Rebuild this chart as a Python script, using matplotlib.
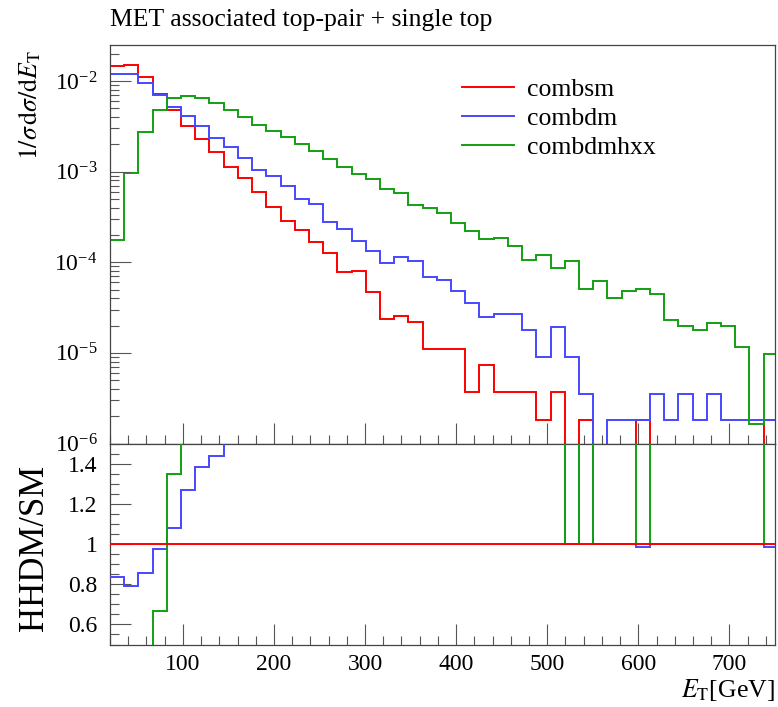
import matplotlib
matplotlib.use('Agg')
import matplotlib.pyplot as plt
import numpy as np
from matplotlib.ticker import LogLocator, NullFormatter, MultipleLocator, FixedLocator, FixedFormatter

plt.rcParams['font.family'] = ['Liberation Serif', 'DejaVu Serif']
plt.rcParams['mathtext.fontset'] = 'stix'

# binning: 47 bins of 15.6 GeV starting at 20 GeV
bin_edges = np.linspace(20, 753.2, 48)

combsm = [1.45e-2, 1.50e-2, 1.10e-2, 7.24e-3, 4.82e-3, 3.23e-3, 2.28e-3, 1.64e-3,
          1.13e-3, 8.47e-4, 6.03e-4, 4.11e-4, 2.88e-4, 2.28e-4, 1.66e-4, 1.26e-4,
          7.87e-5, 8.07e-5, 4.73e-5, 2.36e-5, 2.53e-5, 2.21e-5, 1.10e-5, 1.10e-5,
          1.10e-5, 3.66e-6, 7.30e-6, 3.66e-6, 3.66e-6, 3.66e-6, 1.84e-6, 3.66e-6,
          0, 1.84e-6, 0, 0, 0, 1.84e-6, 0, 0,
          0, 0, 0, 0, 0, 0, 1.84e-6]

combdm = [1.21e-2, 1.19e-2, 9.42e-3, 7.07e-3, 5.20e-3, 4.10e-3, 3.15e-3, 2.36e-3,
          1.85e-3, 1.42e-3, 1.05e-3, 8.84e-4, 6.97e-4, 4.97e-4, 4.41e-4, 2.77e-4,
          2.35e-4, 1.73e-4, 1.32e-4, 9.75e-5, 1.14e-4, 1.03e-4, 6.82e-5, 6.37e-5,
          4.82e-5, 3.58e-5, 2.51e-5, 2.69e-5, 2.69e-5, 1.80e-5, 8.91e-6, 1.94e-5,
          8.91e-6, 3.56e-6, 0, 1.81e-6, 1.81e-6, 1.81e-6, 3.56e-6, 1.81e-6,
          3.56e-6, 1.81e-6, 3.56e-6, 1.81e-6, 1.81e-6, 1.81e-6, 1.81e-6]

combdmhxx = [1.76e-4, 9.77e-4, 2.73e-3, 4.82e-3, 6.49e-3, 6.89e-3, 6.55e-3, 5.71e-3,
             4.79e-3, 4.04e-3, 3.29e-3, 2.84e-3, 2.40e-3, 2.01e-3, 1.70e-3, 1.38e-3,
             1.13e-3, 9.37e-4, 8.32e-4, 6.50e-4, 5.87e-4, 4.30e-4, 3.95e-4, 3.53e-4,
             2.70e-4, 2.22e-4, 1.82e-4, 1.85e-4, 1.50e-4, 1.07e-4, 1.21e-4, 8.59e-5,
             1.02e-4, 5.04e-5, 6.17e-5, 4.06e-5, 4.85e-5, 5.04e-5, 4.47e-5, 2.29e-5,
             1.96e-5, 1.80e-5, 2.13e-5, 1.96e-5, 1.15e-5, 1.66e-6, 9.77e-6]

labels = ['combsm', 'combdm', 'combdmhxx']
colors = ['#ff0000', '#4848ff', '#12a012']
series = [combsm, combdm, combdmhxx]

tick_col = '#555555'

fig = plt.figure(figsize=(7.78, 7.07), dpi=100)
ax = fig.add_axes([0.1414, 0.3727, 0.8547, 0.5637])
axr = fig.add_axes([0.1414, 0.0884, 0.8547, 0.2843], sharex=ax)

# main panel
for vals, lab, col in zip(series, labels, colors):
    ax.stairs(vals, bin_edges, color=col, lw=1.4, label=lab, baseline=None)

ax.set_yscale('log')
ax.set_xlim(20, 750)
ax.set_ylim(1e-6, 2.5e-2)
ax.yaxis.set_major_locator(LogLocator(base=10))
ax.yaxis.set_minor_locator(LogLocator(base=10, subs=np.arange(2, 10)))
ax.yaxis.set_minor_formatter(NullFormatter())
ax.tick_params(axis='x', labelbottom=False)

ax.set_title('MET associated top-pair + single top', loc='left', fontsize=18.5, pad=13.5)
ax.set_ylabel(r'$1/\sigma\,\mathrm{d}\sigma/\mathrm{d}E_\mathrm{T}$', fontsize=18.5, loc='top')
ax.yaxis.set_label_coords(-0.101, 0.987)

ax.legend(loc='upper left', bbox_to_anchor=(0.53, 0.917), frameon=False, fontsize=18.5,
          handlelength=2.0, handletextpad=0.5, labelspacing=0.24,
          borderpad=0, borderaxespad=0)

# ratio panel
ref = np.array(combsm)
for vals, col, z in zip(series, colors, [5, 3, 4]):
    v = np.array(vals)
    ratio = np.where(ref > 0, v / np.where(ref > 0, ref, 1.0), 1.0)
    axr.stairs(ratio, bin_edges, color=col, lw=1.4, baseline=None, zorder=z)

axr.set_ylim(0.5, 1.5)
axr.yaxis.set_major_locator(FixedLocator([0.6, 0.8, 1.0, 1.2, 1.4]))
axr.yaxis.set_major_formatter(FixedFormatter(['0.6', '0.8', '1', '1.2', '1.4']))
axr.yaxis.set_minor_locator(MultipleLocator(0.05))
axr.set_ylabel('HHDM/SM', fontsize=25)
axr.yaxis.set_label_coords(-0.088, 0.48)
axr.set_xlabel(r'$E_\mathrm{T}$[GeV]', fontsize=18.5, loc='right')
axr.xaxis.set_label_coords(1.0, -0.16)

for a in (ax, axr):
    a.xaxis.set_major_locator(MultipleLocator(100))
    a.xaxis.set_minor_locator(MultipleLocator(20))
    a.tick_params(which='both', direction='in', top=False, right=False,
                  color=tick_col, width=0.8, labelsize=17)
    a.tick_params(which='major', length=15)
    a.tick_params(which='minor', length=6.5)
    a.tick_params(axis='y', pad=9)
    a.tick_params(axis='x', pad=7)
    for s in a.spines.values():
        s.set_color('#444444')
        s.set_linewidth(0.9)

fig.savefig('out.png', dpi=100)
